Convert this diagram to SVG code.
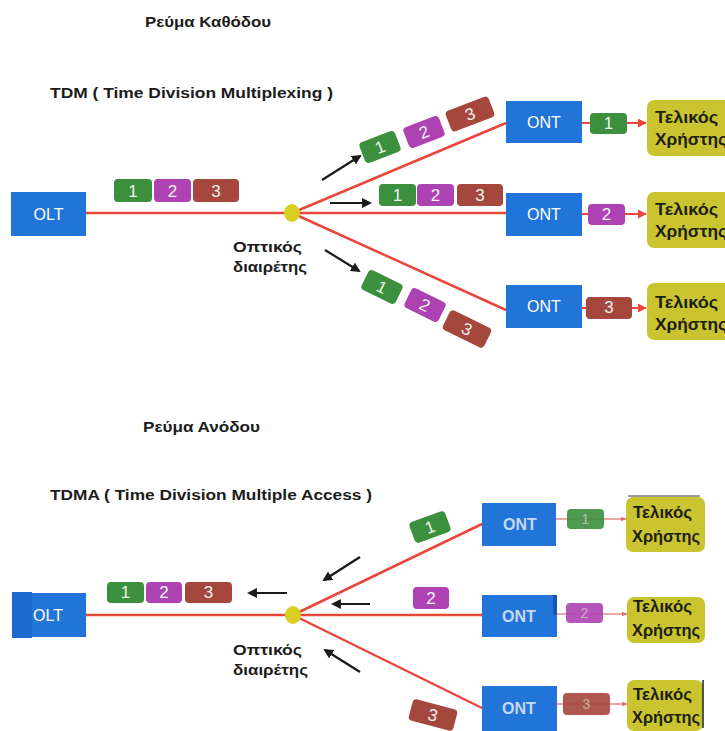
<svg xmlns="http://www.w3.org/2000/svg" width="725" height="731" viewBox="0 0 725 731">
  <defs>
    <style>
      .title { font-family: "Liberation Sans", Arial, sans-serif; font-weight: bold; font-size: 15px; fill: #1c1c1c; }
      .sub { font-family: "Liberation Sans", Arial, sans-serif; font-weight: bold; font-size: 14px; fill: #1c1c1c; }
      .box { fill: #2174d8; }
      .boxtxt { font-family: "Liberation Sans", Arial, sans-serif; font-size: 16px; fill: #ffffff; text-anchor: middle; }
      .boxtxt2 { font-family: "Liberation Sans", Arial, sans-serif; font-size: 16px; fill: #c9d8f0; text-anchor: middle; font-weight: bold; }
      .user { fill: #cbc431; }
      .usertxt { font-family: "Liberation Sans", Arial, sans-serif; font-weight: bold; font-size: 17px; fill: #1e1e10; }
      .lbl { font-family: "Liberation Sans", Arial, sans-serif; font-weight: bold; font-size: 15px; fill: #1c1c1c; }
      .fiber { stroke: #e8473a; stroke-width: 2.5; fill: none; }
      .tail { stroke: #e8473a; stroke-width: 2; fill: none; }
      .tailfaint { stroke: #e58a88; stroke-width: 1.5; fill: none; }
      .flow { stroke: #1a1a1a; stroke-width: 2.2; fill: none; }
      .g { fill: #3b8f3d; }
      .p { fill: #ad43b2; }
      .b { fill: #a5473c; }
      .num { font-family: "Liberation Sans", Arial, sans-serif; font-size: 17px; fill: #eef3ee; text-anchor: middle; }
      .numfaint { font-family: "Liberation Sans", Arial, sans-serif; font-size: 14px; fill: #d8d8c8; text-anchor: middle; opacity: 0.7; }
      .split { fill: #d8cf22; }
    </style>
    <marker id="ah" viewBox="0 0 10 10" refX="8" refY="5" markerWidth="4.5" markerHeight="4.5" orient="auto">
      <path d="M0,0 L10,5 L0,10 z" fill="#1a1a1a"/>
    </marker>
    <marker id="rh" viewBox="0 0 10 10" refX="9" refY="5" markerWidth="4.5" markerHeight="4.5" orient="auto">
      <path d="M0,0 L10,5 L0,10 z" fill="#e8473a"/>
    </marker>
    <marker id="rhf" viewBox="0 0 10 10" refX="9" refY="5" markerWidth="4" markerHeight="4" orient="auto">
      <path d="M0,1 L10,5 L0,9 z" fill="#e07070"/>
    </marker>
    <!-- data frames centred on the origin -->
    <g id="f1"><rect class="g" x="-19" y="-11" width="38" height="22" rx="4"/><text class="num" x="0" y="6">1</text></g>
    <g id="f2"><rect class="p" x="-19" y="-11" width="38" height="22" rx="4"/><text class="num" x="0" y="6">2</text></g>
    <g id="f3"><rect class="b" x="-23" y="-11" width="46" height="22" rx="4"/><text class="num" x="0" y="6">3</text></g>
  </defs>

  <rect width="725" height="731" fill="#ffffff"/>

  <!-- ===================== Downstream ===================== -->
  <text class="title" x="145" y="27" textLength="126" lengthAdjust="spacingAndGlyphs">Ρεύμα Καθόδου</text>
  <text class="sub" x="50" y="98" textLength="283" lengthAdjust="spacingAndGlyphs">TDM ( Time Division Multiplexing )</text>

  <g id="connectors-down">
    <line class="fiber" x1="86" y1="213" x2="292" y2="213"/>
    <line class="fiber" x1="292" y1="213" x2="506" y2="123"/>
    <line class="fiber" x1="292" y1="213" x2="506" y2="213"/>
    <line class="fiber" x1="292" y1="213" x2="506" y2="310"/>
    <line class="tail" x1="582" y1="123" x2="646" y2="123" marker-end="url(#rh)"/>
    <line class="tail" x1="582" y1="214" x2="646" y2="214" marker-end="url(#rh)"/>
    <line class="tail" x1="582" y1="308" x2="646" y2="308" marker-end="url(#rh)"/>
    <line class="flow" x1="322" y1="180" x2="360" y2="156" marker-end="url(#ah)"/>
    <line class="flow" x1="330" y1="203" x2="370" y2="203" marker-end="url(#ah)"/>
    <line class="flow" x1="325" y1="250" x2="359" y2="271" marker-end="url(#ah)"/>
  </g>

  <g id="olt-down">
    <rect class="box" x="11" y="192" width="75" height="44"/>
    <text class="boxtxt" x="48.5" y="220">OLT</text>
  </g>

  <g id="frames-olt-down">
    <rect class="g" x="114" y="179" width="38" height="23" rx="4"/><text class="num" x="133" y="197">1</text>
    <rect class="p" x="154" y="179" width="37" height="23" rx="4"/><text class="num" x="172.5" y="197">2</text>
    <rect class="b" x="193" y="179" width="46" height="23" rx="4"/><text class="num" x="216" y="197">3</text>
  </g>

  <g id="splitter-down">
    <ellipse class="split" cx="292" cy="213" rx="8" ry="9"/>
    <text class="lbl" x="233" y="252" textLength="69" lengthAdjust="spacingAndGlyphs">Οπτικός</text>
    <text class="lbl" x="233" y="272" textLength="74" lengthAdjust="spacingAndGlyphs">διαιρέτης</text>
  </g>

  <g id="frames-branch-up">
    <use href="#f1" transform="translate(380,147) rotate(-21)"/>
    <use href="#f2" transform="translate(424,132) rotate(-21)"/>
    <use href="#f3" transform="translate(470,114) rotate(-21)"/>
  </g>
  <g id="frames-branch-mid">
    <rect class="g" x="379" y="184" width="37" height="22" rx="4"/><text class="num" x="397.5" y="201">1</text>
    <rect class="p" x="417" y="184" width="37" height="22" rx="4"/><text class="num" x="435.5" y="201">2</text>
    <rect class="b" x="457" y="184" width="46" height="22" rx="4"/><text class="num" x="480" y="201">3</text>
  </g>
  <g id="frames-branch-low">
    <use href="#f1" transform="translate(382,287) rotate(26)"/>
    <use href="#f2" transform="translate(425,305) rotate(26)"/>
    <use href="#f3" transform="translate(467,329) rotate(26)"/>
  </g>

  <g id="ont-down-1">
    <rect class="box" x="506" y="101" width="76" height="42"/>
    <text class="boxtxt" x="544" y="128">ONT</text>
  </g>
  <g id="ont-down-2">
    <rect class="box" x="506" y="193" width="76" height="43"/>
    <text class="boxtxt" x="544" y="220">ONT</text>
  </g>
  <g id="ont-down-3">
    <rect class="box" x="506" y="285" width="76" height="43"/>
    <text class="boxtxt" x="544" y="312">ONT</text>
  </g>

  <g id="frame-out-down-1">
    <rect class="g" x="590" y="113" width="37" height="21" rx="4"/><text class="num" x="608.5" y="129">1</text>
  </g>
  <g id="frame-out-down-2">
    <rect class="p" x="588" y="204" width="37" height="21" rx="4"/><text class="num" x="606.5" y="220">2</text>
  </g>
  <g id="frame-out-down-3">
    <rect class="b" x="586" y="297" width="46" height="22" rx="4"/><text class="num" x="609" y="313">3</text>
  </g>

  <g id="user-down-1">
    <rect class="user" x="647" y="100" width="90" height="56" rx="7"/>
    <text class="usertxt" x="655" y="123" textLength="63" lengthAdjust="spacingAndGlyphs">Τελικός</text>
    <text class="usertxt" x="655" y="145" textLength="72" lengthAdjust="spacingAndGlyphs">Χρήστης</text>
  </g>
  <g id="user-down-2">
    <rect class="user" x="647" y="192" width="90" height="56" rx="7"/>
    <text class="usertxt" x="655" y="215" textLength="63" lengthAdjust="spacingAndGlyphs">Τελικός</text>
    <text class="usertxt" x="655" y="237" textLength="72" lengthAdjust="spacingAndGlyphs">Χρήστης</text>
  </g>
  <g id="user-down-3">
    <rect class="user" x="647" y="283" width="90" height="57" rx="7"/>
    <text class="usertxt" x="655" y="308" textLength="63" lengthAdjust="spacingAndGlyphs">Τελικός</text>
    <text class="usertxt" x="655" y="330" textLength="72" lengthAdjust="spacingAndGlyphs">Χρήστης</text>
  </g>

  <!-- ===================== Upstream ===================== -->
  <text class="title" x="143" y="432" textLength="117" lengthAdjust="spacingAndGlyphs">Ρεύμα Ανόδου</text>
  <text class="sub" x="50" y="500" textLength="322" lengthAdjust="spacingAndGlyphs">TDMA ( Time Division Multiple Access )</text>

  <g id="connectors-up">
    <line class="fiber" x1="86" y1="615" x2="293" y2="615"/>
    <line class="fiber" x1="293" y1="615" x2="482" y2="524"/>
    <line class="fiber" x1="293" y1="615" x2="482" y2="615"/>
    <line class="fiber" x1="293" y1="615" x2="482" y2="708"/>
    <line class="tailfaint" x1="556" y1="519" x2="626" y2="519" marker-end="url(#rhf)"/>
    <line class="tailfaint" x1="557" y1="614" x2="627" y2="614" marker-end="url(#rhf)"/>
    <line class="tailfaint" x1="557" y1="704" x2="627" y2="704" marker-end="url(#rhf)"/>
    <line class="flow" x1="287" y1="593" x2="249" y2="593" marker-end="url(#ah)"/>
    <line class="flow" x1="360" y1="557" x2="324" y2="580" marker-end="url(#ah)"/>
    <line class="flow" x1="370" y1="604" x2="333" y2="604" marker-end="url(#ah)"/>
    <line class="flow" x1="360" y1="672" x2="325" y2="650" marker-end="url(#ah)"/>
  </g>

  <g id="olt-up">
    <rect class="box" x="12" y="593" width="74" height="44"/>
    <rect x="12" y="592" width="20" height="46" fill="#1c69cf"/>
    <text class="boxtxt" x="48" y="621">OLT</text>
  </g>

  <g id="frames-olt-up">
    <rect class="g" x="107" y="582" width="37" height="21" rx="4"/><text class="num" x="125.5" y="598">1</text>
    <rect class="p" x="146" y="582" width="36" height="21" rx="4"/><text class="num" x="164" y="598">2</text>
    <rect class="b" x="185" y="582" width="47" height="21" rx="4"/><text class="num" x="208.5" y="598">3</text>
  </g>

  <g id="splitter-up">
    <ellipse class="split" cx="293" cy="615" rx="8" ry="9"/>
    <text class="lbl" x="233" y="655" textLength="69" lengthAdjust="spacingAndGlyphs">Οπτικός</text>
    <text class="lbl" x="233" y="675" textLength="75" lengthAdjust="spacingAndGlyphs">διαιρέτης</text>
  </g>

  <g id="frames-branch-up-in">
    <use href="#f1" transform="translate(430,527) rotate(-20)"/>
    <rect class="p" x="413" y="587" width="36" height="22" rx="4"/><text class="num" x="431" y="604">2</text>
    <use href="#f3" transform="translate(433,715) rotate(15)"/>
  </g>

  <g id="ont-up-1">
    <rect class="box" x="482" y="503" width="74" height="43"/>
    <text class="boxtxt2" x="520" y="530">ONT</text>
  </g>
  <g id="ont-up-2">
    <rect class="box" x="482" y="595" width="75" height="42"/>
    <rect x="553" y="595" width="4" height="20" fill="#1757b3"/>
    <text class="boxtxt2" x="519" y="622">ONT</text>
  </g>
  <g id="ont-up-3">
    <rect class="box" x="482" y="686" width="75" height="45"/>
    <text class="boxtxt2" x="519" y="714">ONT</text>
  </g>

  <g id="frame-out-up-1">
    <rect class="g" x="567" y="509" width="37" height="20" rx="4" opacity="0.9"/><text class="numfaint" x="585.5" y="524">1</text>
  </g>
  <g id="frame-out-up-2">
    <rect class="p" x="566" y="603" width="37" height="20" rx="4" opacity="0.9"/><text class="numfaint" x="584.5" y="618">2</text>
  </g>
  <g id="frame-out-up-3">
    <rect class="b" x="563" y="693" width="47" height="22" rx="4" opacity="0.9"/><text class="numfaint" x="586.5" y="709">3</text>
  </g>

  <g id="user-up-1">
    <rect class="user" x="626" y="497" width="79" height="55" rx="7"/>
    <line x1="628" y1="496" x2="700" y2="496" stroke="#333" stroke-width="1"/>
    <text class="usertxt" x="633" y="518" textLength="59" lengthAdjust="spacingAndGlyphs">Τελικός</text>
    <text class="usertxt" x="632" y="542" textLength="68" lengthAdjust="spacingAndGlyphs">Χρήστης</text>
  </g>
  <g id="user-up-2">
    <rect class="user" x="627" y="597" width="78" height="46" rx="7"/>
    <text class="usertxt" x="633" y="612" textLength="59" lengthAdjust="spacingAndGlyphs">Τελικός</text>
    <text class="usertxt" x="632" y="636" textLength="68" lengthAdjust="spacingAndGlyphs">Χρήστης</text>
  </g>
  <g id="user-up-3">
    <rect class="user" x="627" y="680" width="76" height="51" rx="7"/>
    <line x1="703" y1="680" x2="703" y2="728" stroke="#222" stroke-width="1.5"/>
    <text class="usertxt" x="633" y="700" textLength="59" lengthAdjust="spacingAndGlyphs">Τελικός</text>
    <text class="usertxt" x="632" y="723" textLength="68" lengthAdjust="spacingAndGlyphs">Χρήστης</text>
  </g>
</svg>
